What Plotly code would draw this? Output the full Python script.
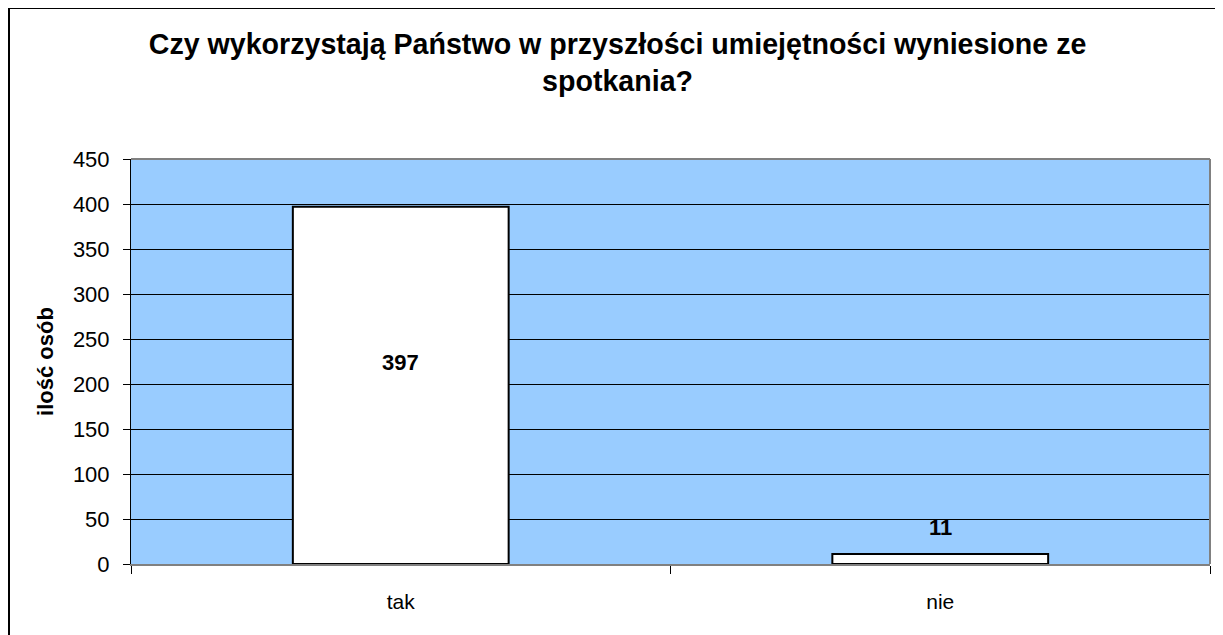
import plotly.graph_objects as go

categories = ["tak", "nie"]
values = [397, 11]
label_inside = [True, False]
y_ticks = [0, 50, 100, 150, 200, 250, 300, 350, 400, 450]

# page has an 8px body margin; figure drawn from page (8, 8)
W, H = 1215, 627
L, R, T, B = 123, 13, 151, 71
pw, ph = W - L - R, H - T - B

def px_x(x):
    return (x - L) / pw

def px_y(y):
    return (H - B - y) / ph

FONT = "Liberation Sans, Arial, sans-serif"

fig = go.Figure()
fig.add_trace(go.Bar(
    x=categories, y=values,
    width=0.4,
    marker=dict(color="white", line=dict(color="black", width=2)),
))

annotations = []
for c, v, inside in zip(categories, values, label_inside):
    if inside:
        annotations.append(dict(x=c, y=v / 2, xref="x", yref="y", text=f"<b>{v}</b>",
                                showarrow=False, yanchor="middle", yshift=23,
                                font=dict(family=FONT, size=22, color="black")))
    else:
        annotations.append(dict(x=c, y=v, xref="x", yref="y", text=f"<b>{v}</b>",
                                showarrow=False, yanchor="bottom", yshift=12,
                                font=dict(family=FONT, size=22, color="black")))

fig.update_layout(
    width=W, height=H,
    margin=dict(l=L, r=R, t=T, b=B),
    paper_bgcolor="white",
    plot_bgcolor="#99CCFF",
    showlegend=False,
    font=dict(family=FONT, color="black"),
    title=dict(
        text="<b>Czy wykorzystają Państwo w przyszłości umiejętności wyniesione ze<br>spotkania?</b>",
        x=0.5017, xanchor="center", y=1 - 46 / H, yanchor="middle",
        font=dict(family=FONT, size=28.6, color="black"),
    ),
    xaxis=dict(
        type="category",
        tickson="boundaries",
        ticks="outside", ticklen=8, tickcolor="black", tickwidth=1,
        ticklabelstandoff=18,
        showgrid=False,
        showline=True, linecolor="#808080", linewidth=2,
        tickfont=dict(size=21),
        range=[-0.5, 1.5],
    ),
    yaxis=dict(
        range=[0, 450],
        tickvals=y_ticks,
        ticks="outside", ticklen=7, tickcolor="black",
        ticklabelstandoff=9,
        showgrid=True, gridcolor="black", gridwidth=1,
        showline=True, linecolor="black", linewidth=1,
        zeroline=False,
        tickfont=dict(size=22),
        title=dict(text="<b>ilość osób</b>", font=dict(size=22), standoff=13),
    ),
    annotations=annotations,
    shapes=[
        dict(type="rect", xref="paper", yref="paper",
             x0=px_x(1), x1=px_x(W + 20), y0=px_y(H + 20), y1=px_y(0),
             line=dict(color="black", width=2), layer="below"),
        dict(type="line", xref="paper", yref="paper", x0=0, x1=1, y0=1, y1=1,
             line=dict(color="#808080", width=2)),
        dict(type="line", xref="paper", yref="paper", x0=1, x1=1, y0=0, y1=1,
             line=dict(color="#808080", width=2)),
    ],
)

fig.write_html("out.html")
